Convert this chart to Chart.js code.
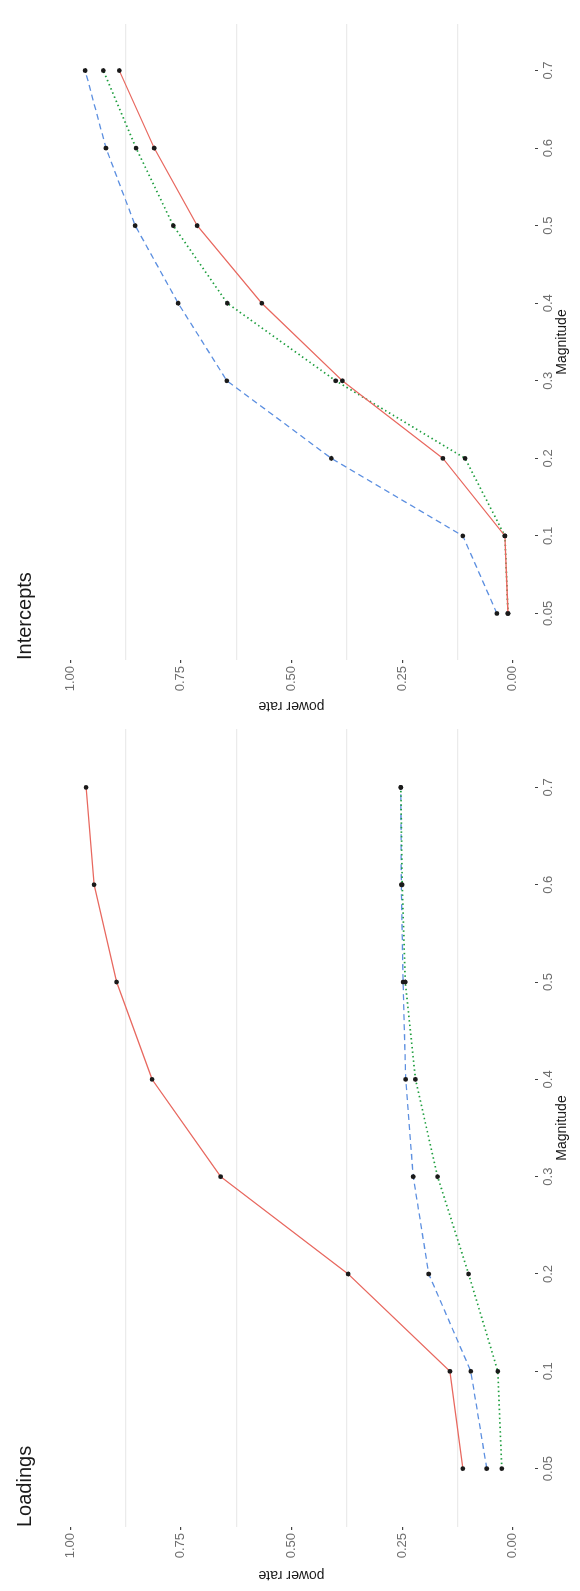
<!DOCTYPE html>
<html>
<head>
<meta charset="utf-8">
<script src="https://cdn.jsdelivr.net/npm/chart.js@4"></script>
<style>
body{margin:0;background:#fff;overflow:hidden}
#page{position:absolute;left:0;top:0;width:1591px;height:580px;transform-origin:0 0;transform:translate(0,1591px) rotate(-90deg)}
canvas{position:absolute;top:0}
#loadings{left:0}
#intercepts{left:866px}
</style>
</head>
<body>
<div id="page">
<canvas id="loadings" width="866" height="580"></canvas>
<canvas id="intercepts" width="725" height="580"></canvas>
</div>
<script>
const magnitudes = ["0.05","0.1","0.2","0.3","0.4","0.5","0.6","0.7"]
const powerTicks = [0, 0.25, 0.5, 0.75, 1]
const powerLabels = ["0.00","0.25","0.50","0.75","1.00"]
const minorBreaks = [0.125, 0.375, 0.625, 0.875]

// Loadings panel
const loadSolid  = [0.113, 0.142, 0.372, 0.66, 0.815, 0.895, 0.946, 0.964]
const loadDotted = [0.025, 0.034, 0.10, 0.17, 0.22, 0.243, 0.25, 0.253]
const loadDashed = [0.059, 0.095, 0.19, 0.225, 0.242, 0.248, 0.252, 0.253]

// Intercepts panel
const intSolid  = [0.011, 0.018, 0.158, 0.385, 0.567, 0.713, 0.810, 0.889]
const intDotted = [0.011, 0.018, 0.108, 0.40, 0.645, 0.767, 0.851, 0.925]
const intDashed = [0.036, 0.113, 0.41, 0.646, 0.756, 0.853, 0.919, 0.966]

const tickFont = {family:"'Liberation Sans', Arial, sans-serif", size:13}
const titleFont = {family:"'Liberation Sans', Arial, sans-serif", size:14}

const panelTitle = {
    id:"panelTitle",
    afterDraw(chart, args, opts){
        const ctx = chart.ctx
        ctx.save()
        ctx.font = "20px 'Liberation Sans', Arial, sans-serif"
        ctx.fillStyle = "#1a1a1a"
        ctx.textBaseline = "alphabetic"
        ctx.fillText(opts.text, chart.chartArea.left, 31)
        ctx.restore()
    }
}

function toPoints(vals){
    return vals.map((v,i) => ({x:i, y:v}))
}

function series(label, vals, color, width, dash){
    return {
        label:label,
        data:toPoints(vals),
        borderColor:color,
        borderWidth:width,
        borderDash:dash,
        pointRadius:2.4,
        pointBackgroundColor:"#1a1a1a",
        pointBorderColor:"#1a1a1a",
        pointBorderWidth:0
    }
}

function makeChart(id, title, solid, dotted, dashed, yWidth, yTitlePad, padRight){

    new Chart(document.getElementById(id),{
        type:"line",
        data:{
            datasets:[
                series("solid", solid, "#E8685F", 1.3, []),
                series("dotted", dotted, "#1E9E3E", 1.7, [1.5,3]),
                series("dashed", dashed, "#5C8FE0", 1.3, [6,4])
            ]
        },
        options:{
            responsive:false,
            animation:false,
            devicePixelRatio:1,
            events:[],
            layout:{padding:{left:0, right:padRight, top:48, bottom:0}},
            elements:{
                line:{tension:0, fill:false}
            },
            plugins:{
                legend:{display:false},
                tooltip:{enabled:false},
                panelTitle:{text:title}
            },
            scales:{
                x:{
                    type:"linear",
                    position:"bottom",
                    min:-0.6,
                    max:magnitudes.length - 0.4,
                    afterBuildTicks:s => { s.ticks = magnitudes.map((m,i) => ({value:i})) },
                    afterFit:s => { s.height = 45 },
                    ticks:{
                        callback:v => magnitudes[v],
                        font:tickFont,
                        color:"#6e6e6e",
                        padding:3,
                        autoSkip:false,
                        maxRotation:0
                    },
                    grid:{drawOnChartArea:false, tickLength:3, tickColor:"#444"},
                    border:{display:false},
                    title:{display:true, text:"Magnitude", font:titleFont, color:"#1a1a1a", padding:{top:0, bottom:9.6}}
                },
                y:{
                    type:"linear",
                    min:-0.05,
                    max:1.05,
                    afterBuildTicks:s => {
                        s.ticks = powerTicks.concat(minorBreaks).sort((a,b) => a-b).map(v => ({value:v}))
                    },
                    afterFit:s => { s.width = yWidth },
                    ticks:{
                        callback:v => {
                            const i = powerTicks.indexOf(v)
                            return i < 0 ? "" : powerLabels[i]
                        },
                        font:tickFont,
                        color:"#6e6e6e",
                        padding:3,
                        autoSkip:false
                    },
                    grid:{
                        color:c => minorBreaks.includes(c.tick.value) ? "#ebebeb" : "rgba(0,0,0,0)",
                        tickColor:c => minorBreaks.includes(c.tick.value) ? "rgba(0,0,0,0)" : "#444",
                        lineWidth:1.2,
                        tickLength:3
                    },
                    border:{display:false},
                    title:{display:true, text:"power rate", font:titleFont, color:"#1a1a1a", padding:{top:yTitlePad, bottom:0}}
                }
            }
        },
        plugins:[panelTitle]
    })

}

makeChart("loadings", "Loadings", loadSolid, loadDotted, loadDashed, 64, 7.6, 0)
makeChart("intercepts", "Intercepts", intSolid, intDotted, intDashed, 65, 10.6, 24)
</script>
</body>
</html>
